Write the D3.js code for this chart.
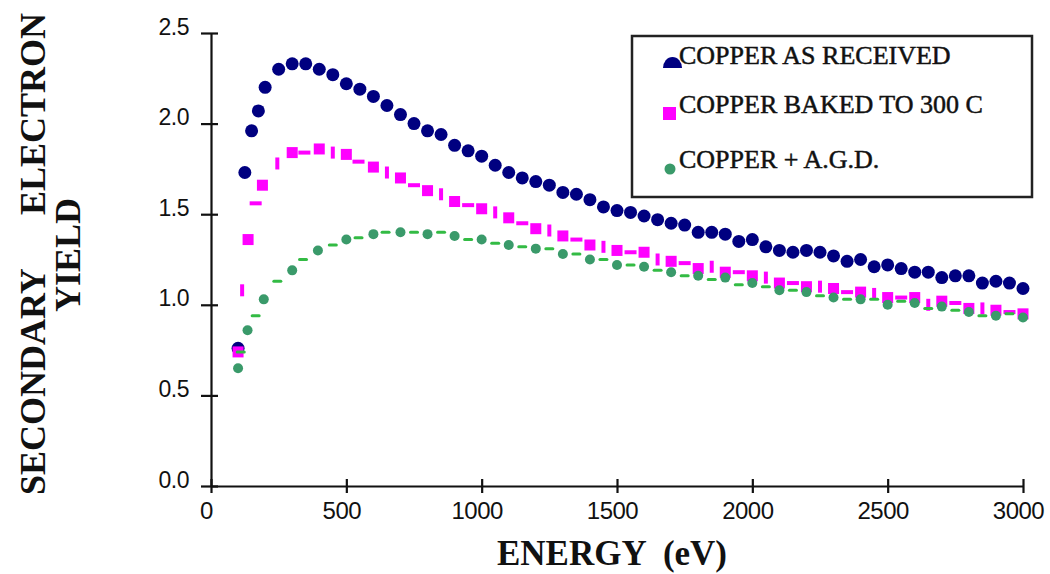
<!DOCTYPE html>
<html>
<head>
  <meta charset="utf-8">
  <script src="https://d3js.org/d3.v7.min.js"></script>
  <style>
    body { margin: 0; background: #fff; }
    svg { display: block; }
    text { font-family: "Liberation Serif", "Times New Roman", serif; fill: #111; }
  </style>
</head>
<body>
  <svg id="chart"></svg>

  <script>
    // data (energy in eV, yield)
    let asReceivedE = [100, 125, 150, 175, 200, 250, 300, 350, 400, 450, 500, 550, 600, 650, 700, 750,
      800, 850, 900, 950, 1000, 1050, 1100, 1150, 1200, 1250, 1300, 1350, 1400, 1450, 1500, 1550,
      1600, 1650, 1700, 1750, 1800, 1850, 1900, 1950, 2000, 2050, 2100, 2150, 2200, 2250, 2300,
      2350, 2400, 2450, 2500, 2550, 2600, 2650, 2700, 2750, 2800, 2850, 2900, 2950, 3000];
    let asReceivedY = [0.76, 1.73, 1.96, 2.07, 2.20, 2.30, 2.33, 2.33, 2.30, 2.27, 2.22, 2.19, 2.15, 2.10, 2.05, 2.00,
      1.96, 1.94, 1.88, 1.85, 1.82, 1.77, 1.73, 1.70, 1.68, 1.66, 1.62, 1.61, 1.58, 1.54, 1.52, 1.51,
      1.49, 1.47, 1.45, 1.44, 1.40, 1.40, 1.39, 1.35, 1.36, 1.32, 1.30, 1.29, 1.30, 1.29, 1.27,
      1.24, 1.25, 1.21, 1.22, 1.20, 1.18, 1.18, 1.15, 1.16, 1.16, 1.12, 1.13, 1.12, 1.09];

    let bakedE = [100, 115, 137, 165, 190, 245, 300, 345, 400, 450, 500, 545, 600, 650, 700, 750,
      800, 850, 900, 950, 1000, 1050, 1100, 1150, 1200, 1250, 1300, 1350, 1400, 1450, 1500, 1550,
      1600, 1650, 1700, 1750, 1800, 1850, 1900, 1950, 2000, 2050, 2100, 2150, 2200, 2250, 2300,
      2350, 2400, 2450, 2500, 2550, 2600, 2650, 2700, 2750, 2800, 2850, 2900, 2950, 3000];
    let bakedY = [0.74, 1.08, 1.36, 1.56, 1.66, 1.78, 1.84, 1.84, 1.86, 1.84, 1.83, 1.79, 1.76, 1.73, 1.70, 1.66,
      1.63, 1.61, 1.57, 1.55, 1.53, 1.51, 1.48, 1.45, 1.42, 1.41, 1.38, 1.36, 1.33, 1.32, 1.30, 1.29,
      1.29, 1.25, 1.24, 1.23, 1.20, 1.21, 1.18, 1.18, 1.16, 1.15, 1.12, 1.12, 1.10, 1.10, 1.09,
      1.07, 1.07, 1.06, 1.04, 1.04, 1.04, 1.00, 1.02, 1.01, 0.98, 0.98, 0.97, 0.96, 0.95];

    let agdE = [100, 110, 135, 165, 195, 245, 300, 340, 395, 450, 500, 545, 600, 645, 700, 750,
      800, 850, 900, 950, 1000, 1050, 1100, 1150, 1200, 1250, 1300, 1350, 1400, 1450, 1500, 1550,
      1600, 1650, 1700, 1750, 1800, 1850, 1900, 1950, 2000, 2050, 2100, 2150, 2200, 2250, 2300,
      2350, 2400, 2450, 2500, 2550, 2600, 2650, 2700, 2750, 2800, 2850, 2900, 2950, 3000];
    let agdY = [0.65, 0.74, 0.86, 0.94, 1.03, 1.13, 1.19, 1.25, 1.30, 1.33, 1.36, 1.37, 1.39, 1.40, 1.40, 1.40,
      1.39, 1.40, 1.38, 1.36, 1.36, 1.34, 1.33, 1.32, 1.31, 1.31, 1.28, 1.28, 1.25, 1.25, 1.22, 1.22,
      1.21, 1.19, 1.18, 1.16, 1.16, 1.14, 1.15, 1.11, 1.12, 1.10, 1.08, 1.08, 1.07, 1.05, 1.04,
      1.03, 1.03, 1.03, 1.00, 1.02, 1.01, 0.98, 0.99, 0.97, 0.96, 0.94, 0.94, 0.95, 0.93];

    let legendLabels = ["COPPER AS RECEIVED", "COPPER BAKED TO 300 C", "COPPER + A.G.D."];
    let xTicks = [0, 500, 1000, 1500, 2000, 2500, 3000];
    let yTicks = [0, 0.5, 1.0, 1.5, 2.0, 2.5];

    // set up svg
    let width = 1050, height = 574;
    let svg = d3.select("#chart").attr("width", width).attr("height", height);

    let x = d3.scaleLinear().domain([0, 3000]).range([211, 1023]);
    let y = d3.scaleLinear().domain([0, 2.5]).range([486, 33]);

    let zip = (es, ys) => es.map((e, i) => ({ e: e, v: ys[i] }));

    // axes
    let xAxis = svg.append("g")
      .attr("transform", "translate(0," + y(0) + ")")
      .call(d3.axisBottom(x).tickValues(xTicks).tickSize(7).tickSizeOuter(0).tickFormat(d3.format("d")));
    xAxis.selectAll(".tick line").attr("y1", -7);
    xAxis.selectAll(".tick text").attr("dy", 0).attr("y", 33).attr("x", -5).style("font-size", "24px");

    let yAxis = svg.append("g")
      .attr("transform", "translate(" + x(0) + ",0)")
      .call(d3.axisLeft(y).tickValues(yTicks).tickSize(10).tickSizeOuter(0).tickFormat(d3.format(".1f")));
    yAxis.selectAll(".tick line").attr("x1", 7);
    yAxis.selectAll(".tick text").attr("x", -22).attr("dy", 0).attr("y", 1).style("font-size", "23px");

    svg.selectAll(".domain, .tick line").attr("stroke", "#111").attr("stroke-width", 2.2);
    svg.selectAll(".tick text").attr("fill", "#1a1a33")
      .style("font-family", "'Liberation Sans', Arial, sans-serif")
      .style("letter-spacing", "-0.5px");

    // copper as received: navy circles
    svg.append("g").selectAll("circle")
      .data(zip(asReceivedE, asReceivedY))
      .enter().append("circle")
      .attr("cx", d => x(d.e))
      .attr("cy", d => y(d.v))
      .attr("r", 6.5)
      .attr("fill", "#000080");

    // copper baked: magenta squares, every other one drawn as a short dash
    svg.append("g").selectAll("rect")
      .data(zip(bakedE, bakedY))
      .enter().append("rect")
      .attr("width", (d, i) => i % 2 == 0 ? 11 : (i % 4 == 1 ? 4 : 12))
      .attr("height", (d, i) => i % 2 == 0 ? 11 : (i % 4 == 1 ? 12 : 4))
      .attr("x", (d, i) => x(d.e) - (i % 2 == 0 ? 5.5 : (i % 4 == 1 ? 2 : 6)))
      .attr("y", (d, i) => y(d.v) - (i % 2 == 0 ? 5.5 : (i % 4 == 1 ? 6 : 2)))
      .attr("fill", "#ff00ff");

    // copper + AGD: green circles with dashes in between
    let agd = svg.append("g").selectAll("g")
      .data(zip(agdE, agdY))
      .enter().append("g");
    agd.filter((d, i) => i % 2 == 0).append("circle")
      .attr("cx", d => x(d.e))
      .attr("cy", d => y(d.v))
      .attr("r", 5)
      .attr("fill", "#3a9a6a");
    agd.filter((d, i) => i % 2 == 1).append("rect")
      .attr("x", d => x(d.e) - 5)
      .attr("y", d => y(d.v) - 1.5)
      .attr("width", 10)
      .attr("height", 3)
      .attr("rx", 1.5)
      .attr("fill", "#33bb44");

    // legend
    let legend = svg.append("g");
    legend.append("rect")
      .attr("x", 632).attr("y", 36).attr("width", 400).attr("height", 161)
      .attr("fill", "#fff").attr("stroke", "#222").attr("stroke-width", 2.5);
    legend.append("path")
      .attr("d", "M663,68 A9.5,11 0 0 1 682,68 Z")
      .attr("fill", "#000080");
    legend.append("rect")
      .attr("x", 663).attr("y", 107).attr("width", 13).attr("height", 13)
      .attr("fill", "#ff00ff");
    legend.append("circle")
      .attr("cx", 670).attr("cy", 169).attr("r", 5.5)
      .attr("fill", "#3a9a6a");
    legend.selectAll("text.lab")
      .data(legendLabels)
      .enter().append("text")
      .attr("class", "lab")
      .attr("x", 679)
      .attr("y", (d, i) => [64, 113, 168][i])
      .style("font-size", "26px")
      .attr("stroke", "#111").attr("stroke-width", 0.5)
      .text(d => d);

    // axis titles
    svg.append("text")
      .attr("transform", "translate(45,495) rotate(-90)")
      .style("font-size", "36px").style("font-weight", "bold")
      .text("SECONDARY");
    svg.append("text")
      .attr("transform", "translate(45,13) rotate(-90)")
      .attr("text-anchor", "end")
      .style("font-size", "36px").style("font-weight", "bold")
      .text("ELECTRON");
    svg.append("text")
      .attr("transform", "translate(80,312) rotate(-90)")
      .style("font-size", "36px").style("font-weight", "bold")
      .text("YIELD");
    svg.append("text")
      .attr("x", 612).attr("y", 565)
      .attr("text-anchor", "middle")
      .style("font-size", "35px").style("font-weight", "bold")
      .style("white-space", "pre")
      .text("ENERGY  (eV)");
  </script>
</body>
</html>
